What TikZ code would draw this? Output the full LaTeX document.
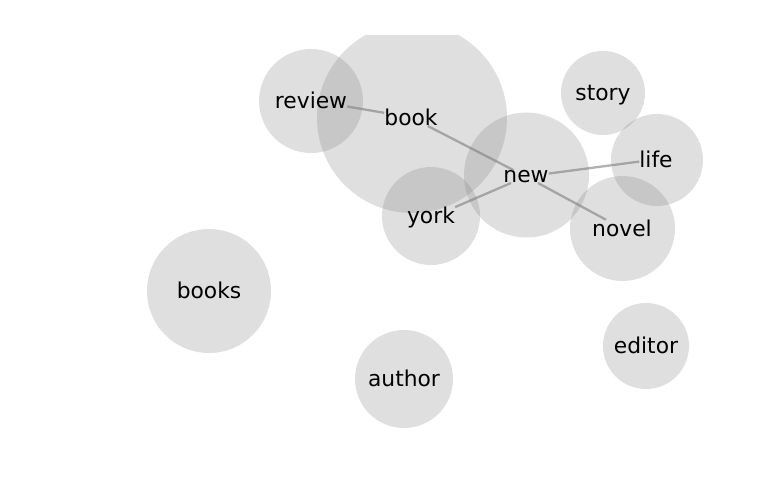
\documentclass[tikz,border=0pt]{standalone}
\usepackage{fontspec}
\setmainfont{DejaVu Sans}
\begin{document}
\begin{tikzpicture}[x=1pt,y=-1pt,
  bubble/.style={fill=gray,fill opacity=0.25,draw=none},
  word/.style={inner sep=0pt,anchor=base,font=\fontsize{21.8}{24}\selectfont,text=black},
  link/.style={draw=gray,draw opacity=0.62,line width=2.3pt}]
\useasboundingbox (0,0) rectangle (769,500);
\begin{scope}
\clip (0,36) rectangle (769,500);
\fill[bubble] (412,118) circle (95);
\fill[bubble] (311,101) circle (52);
\fill[bubble] (431,216) circle (49);
\fill[bubble] (526.5,175) circle (62.5);
\fill[bubble] (603,93) circle (42);
\fill[bubble] (657,160) circle (46);
\fill[bubble] (622.5,228.5) circle (52.5);
\fill[bubble] (209,291) circle (62);
\fill[bubble] (404,379) circle (49);
\fill[bubble] (646,346) circle (43);
\end{scope}
\node[word] (book) at (411,125.5) {book};
\node[word] (review) at (311,108.5) {review};
\node[word] (york) at (431,223.5) {york};
\node[word] (new) at (526,182.5) {new};
\node[word] (story) at (603,100.5) {story};
\node[word] (life) at (656,167.5) {life};
\node[word] (novel) at (622,236.5) {novel};
\node[word] (books) at (209,298.5) {books};
\node[word] (author) at (404,386.5) {author};
\node[word] (editor) at (646,353.5) {editor};
\path[link] (review) -- (book);
\path[link] (book) -- (new);
\path[link] (new) -- (york);
\path[link] (new) -- (life);
\path[link] (new) -- (novel);
\end{tikzpicture}
\end{document}
